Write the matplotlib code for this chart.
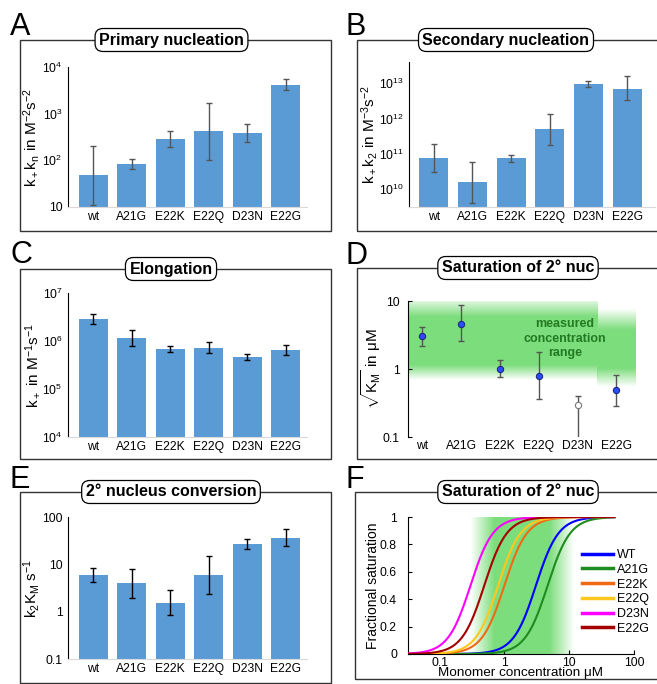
import matplotlib
matplotlib.use("Agg")
import matplotlib.pyplot as plt
import numpy as np
from matplotlib.patches import Rectangle
from matplotlib.ticker import NullLocator

plt.rcParams["font.family"] = ["Liberation Sans", "DejaVu Sans"]
plt.rcParams["mathtext.fontset"] = "custom"
plt.rcParams["mathtext.rm"] = "Liberation Sans"
plt.rcParams["mathtext.it"] = "Liberation Sans"
plt.rcParams["mathtext.bf"] = "Liberation Sans:bold"
plt.rcParams["mathtext.default"] = "regular"

W, H = 657, 684

variants = ["wt", "A21G", "E22K", "E22Q", "D23N", "E22G"]
legend_names = ["WT", "A21G", "E22K", "E22Q", "D23N", "E22G"]

# A: primary nucleation, k+kn
prim_val = [48, 84, 285, 420, 385, 4200]
prim_lo = [11, 66, 193, 104, 243, 3280]
prim_hi = [205, 109, 418, 1680, 608, 5540]

# B: secondary nucleation, k+k2
sec_val = [7.6e10, 1.6e10, 7.6e10, 5.0e11, 9.6e12, 6.9e12]
sec_lo = [3.1e10, 4.2e9, 5.9e10, 1.84e11, 7.9e12, 3.4e12]
sec_hi = [1.9e11, 5.9e10, 9.6e10, 1.37e12, 1.17e13, 1.6e13]

# C: elongation, k+
elo_val = [2.9e6, 1.16e6, 6.8e5, 7.2e5, 4.66e5, 6.5e5]
elo_lo = [2.28e6, 8.0e5, 5.8e5, 5.6e5, 3.95e5, 5.0e5]
elo_hi = [3.64e6, 1.68e6, 7.8e5, 9.7e5, 5.3e5, 8.2e5]

# D: sqrt(KM) in uM
km_val = [3.07, 4.65, 1.0, 0.80, 0.30, 0.49]
km_lo = [2.19, 2.56, 0.76, 0.36, 0.09, 0.285]
km_hi = [4.2, 8.6, 1.34, 1.75, 0.40, 0.83]
km_reliable = [True, True, True, True, False, True]

# E: 2nd nucleus conversion, k2KM
conv_val = [6.05, 4.1, 1.55, 6.05, 27.3, 36.6]
conv_lo = [4.3, 1.98, 0.865, 2.36, 21.1, 24.8]
conv_hi = [8.4, 7.95, 2.9, 15.2, 34.3, 55]

# F: saturation curves
curve_colors = ["#0000ff", "#1e8c1e", "#f06a14", "#ffc81e", "#ff00ff", "#a50000"]
hill_n = 2.5
conc_min, conc_max = 0.033, 50

# measured concentration range (green shading)
band_d1_y = [0.69, 1.15, 5.9, 12]
band_d2_y = [0.55, 1.03, 3.8, 7.8]
band_f_x = [0.3, 0.7, 5.0, 12.0]
band_alpha = [0, 1, 1, 0]

BAR = "#5b9bd5"
GREEN = (0.49, 0.87, 0.49)

fig = plt.figure(figsize=(W / 100, H / 100), dpi=100)


def add_ax(x0, y0, x1, y1):
    return fig.add_axes([x0 / W, 1 - y1 / H, (x1 - x0) / W, (y1 - y0) / H])


def frame(x0, y0, x1, y1, letter, lx, ly, title, tx):
    fig.add_artist(Rectangle((x0 / W, 1 - y1 / H), (x1 - x0) / W, (y1 - y0) / H,
                             transform=fig.transFigure, fill=False,
                             ec="#333333", lw=1))
    fig.text(lx / W, 1 - ly / H, letter, fontsize=22, ha="left", va="baseline")
    fig.text(tx / W, 1 - y0 / H, title, fontsize=11.5, fontweight="bold",
             ha="center", va="center", zorder=5,
             bbox=dict(boxstyle="round,pad=0.25,rounding_size=0.5",
                       fc="white", ec="black", lw=0.9))


def backdrop(ax, xlim, ylim):
    # linear axes (log10 units where needed) sitting behind ax for the shading
    bg = fig.add_axes(ax.get_position(), zorder=ax.get_zorder() - 1)
    bg.set_xlim(*xlim)
    bg.set_ylim(*ylim)
    bg.axis("off")
    ax.patch.set_visible(False)
    return bg


def shade(bg, x0, x1, y0, y1, anchors, vertical):
    pos = np.linspace(0, 1, 300)
    lo, hi = (y0, y1) if vertical else (x0, x1)
    alpha = np.interp(lo + pos * (hi - lo), np.log10(anchors), band_alpha)
    img = np.zeros((300, 1, 4)) if vertical else np.zeros((1, 300, 4))
    img[..., :3] = GREEN
    img[..., 3] = alpha.reshape(img.shape[:2])
    bg.imshow(img, extent=(x0, x1, y0, y1), origin="lower", aspect="auto",
              interpolation="bilinear")


def bar_panel(ax, vals, lo, hi, ylim, xlim, ticks, labels, ylabel, ecolor, lab_x):
    x = np.arange(len(variants))
    vals, lo, hi = np.array(vals), np.array(lo), np.array(hi)
    ax.set_yscale("log")
    ax.bar(x, vals - ylim[0], bottom=ylim[0], width=0.75, color=BAR, zorder=2)
    ax.errorbar(x, vals, yerr=[vals - lo, hi - vals], fmt="none", ecolor=ecolor,
                elinewidth=1, capsize=2, capthick=1, zorder=3)
    ax.set_ylim(*ylim)
    ax.set_xlim(*xlim)
    ax.set_yticks(ticks)
    ax.set_yticklabels(labels)
    ax.yaxis.set_minor_locator(NullLocator())
    ax.set_xticks(x)
    ax.set_xticklabels(variants)
    ax.tick_params(axis="both", length=0, labelsize=8.7)
    ax.tick_params(axis="x", pad=3)
    ax.tick_params(axis="y", pad=4)
    for s in ["top", "right"]:
        ax.spines[s].set_visible(False)
    ax.spines["bottom"].set_color("#d9d9d9")
    ax.spines["left"].set_color("black")
    ax.set_ylabel(ylabel, fontsize=11)
    ax.yaxis.set_label_coords(lab_x, 0.5)


# frames
frame(20, 40, 331, 231, "A", 10, 35, "Primary nucleation", 171.5)
frame(357, 40, 662, 231, "B", 345, 35, "Secondary nucleation", 506)
frame(20, 269, 331, 459, "C", 10, 263, "Elongation", 171)
frame(357, 268, 662, 459, "D", 345, 264, "Saturation of 2\u00b0 nuc", 518)
frame(20, 492, 331, 683, "E", 10, 488, "2\u00b0 nucleus conversion", 171)
frame(355, 492, 662, 679, "F", 345, 488, "Saturation of 2\u00b0 nuc", 518)

# A
axA = add_ax(68, 67, 307, 207)
bar_panel(axA, prim_val, prim_lo, prim_hi, (10, 1e4), (-0.65, 5.55),
          [10, 1e2, 1e3, 1e4], ["10", "10$^2$", "10$^3$", "10$^4$"],
          "k$_+$k$_n$ in M$^{-2}$s$^{-2}$", "#555555", -0.109)

# B
axB = add_ax(409, 62, 655, 207)
bar_panel(axB, sec_val, sec_lo, sec_hi, (10 ** 9.5, 10 ** 13.6), (-0.64, 5.72),
          [1e10, 1e11, 1e12, 1e13], ["10$^{10}$", "10$^{11}$", "10$^{12}$", "10$^{13}$"],
          "k$_+$k$_2$ in M$^{-3}$s$^{-2}$", "#555555", -0.118)

# C
axC = add_ax(68, 293, 307, 437)
bar_panel(axC, elo_val, elo_lo, elo_hi, (1e4, 1e7), (-0.65, 5.55),
          [1e4, 1e5, 1e6, 1e7], ["10$^4$", "10$^5$", "10$^6$", "10$^7$"],
          "k$_+$ in M$^{-1}$s$^{-1}$", "black", -0.109)

# E
axE = add_ax(68, 517, 307, 659)
bar_panel(axE, conv_val, conv_lo, conv_hi, (0.1, 100), (-0.65, 5.55),
          [0.1, 1, 10, 100], ["0.1", "1", "10", "100"],
          "k$_2$K$_M$ s$^{-1}$", "black", -0.109)

# D
axD = add_ax(408, 301, 637, 437)
axD.set_yscale("log")
xd = np.arange(len(variants))
xlimD = (-0.37, 5.53)
bgD = backdrop(axD, xlimD, (-1, 1))
shade(bgD, xlimD[0], 4.5, -1, 1.1, band_d1_y, True)
shade(bgD, 4.5, 5.5, -1, 1.1, band_d2_y, True)
kv, kl, kh = np.array(km_val), np.array(km_lo), np.array(km_hi)
axD.errorbar(xd, kv, yerr=[kv - kl, kh - kv], fmt="none", ecolor="#555555",
             elinewidth=1, capsize=2, capthick=1, zorder=3)
for i in range(len(variants)):
    if km_reliable[i]:
        axD.plot(xd[i], kv[i], "o", ms=4.5, mfc="#2b4cff", mec="#1a2a80", mew=0.8, zorder=4)
    else:
        axD.plot(xd[i], kv[i], "o", ms=4.5, mfc="white", mec="#777777", mew=0.8, zorder=4)
axD.text(3.67, 2.8, "measured\nconcentration\nrange", color="#237a23",
         fontsize=9, fontweight="bold", ha="center", va="center", linespacing=1.3)
axD.set_ylim(0.1, 10)
axD.set_xlim(*xlimD)
axD.set_yticks([0.1, 1, 10])
axD.set_yticklabels(["0.1", "1", "10"])
axD.yaxis.set_minor_locator(NullLocator())
axD.set_xticks(xd)
axD.set_xticklabels(variants)
axD.tick_params(axis="y", direction="in", length=3, labelsize=8.7, pad=6)
axD.tick_params(axis="x", length=0, labelsize=8.7, pad=2)
for s in ["top", "right", "bottom"]:
    axD.spines[s].set_visible(False)
axD.set_ylabel("$\\sqrt{K_M}$ in \u03bcM", fontsize=11)
axD.yaxis.set_label_coords(-0.11, 0.5)

# F
axF = add_ax(408, 517, 634, 654)
axF.set_xscale("log")
xlimF = (0.0326, 100)
bgF = backdrop(axF, np.log10(xlimF), (0, 1))
shade(bgF, np.log10(xlimF[0]), 2, 0, 1, band_f_x, False)
conc = np.logspace(np.log10(conc_min), np.log10(conc_max), 300)
for c50, col, name in zip(km_val, curve_colors, legend_names):
    frac = conc ** hill_n / (conc ** hill_n + c50 ** hill_n)
    axF.plot(conc, frac, color=col, lw=1.5, label=name, zorder=3)
axF.set_xlim(*xlimF)
axF.set_ylim(0, 1)
axF.set_xticks([0.1, 1, 10, 100])
axF.set_xticklabels(["0.1", "1", "10", "100"])
axF.xaxis.set_minor_locator(NullLocator())
axF.set_yticks([0, 0.2, 0.4, 0.6, 0.8, 1])
axF.set_yticklabels(["0", "0.2", "0.4", "0.6", "0.8", "1"])
axF.tick_params(axis="both", direction="in", length=3, labelsize=8.7)
axF.tick_params(axis="y", pad=8)
axF.tick_params(axis="x", pad=2)
for s in ["top", "right"]:
    axF.spines[s].set_visible(False)
axF.set_xlabel("Monomer concentration \u03bcM", fontsize=9.7, labelpad=-1)
axF.set_ylabel("Fractional saturation", fontsize=10)
axF.yaxis.set_label_coords(-0.125, 0.5)
leg = axF.legend(loc="upper left", bbox_to_anchor=(582 / W, 1 - 549 / H),
                 bbox_transform=fig.transFigure, frameon=False, fontsize=9,
                 handlelength=2.5, handletextpad=0.3, labelspacing=0.22,
                 borderpad=0, borderaxespad=0)
for line in leg.get_lines():
    line.set_linewidth(2.5)

fig.savefig("out.png", dpi=100)
